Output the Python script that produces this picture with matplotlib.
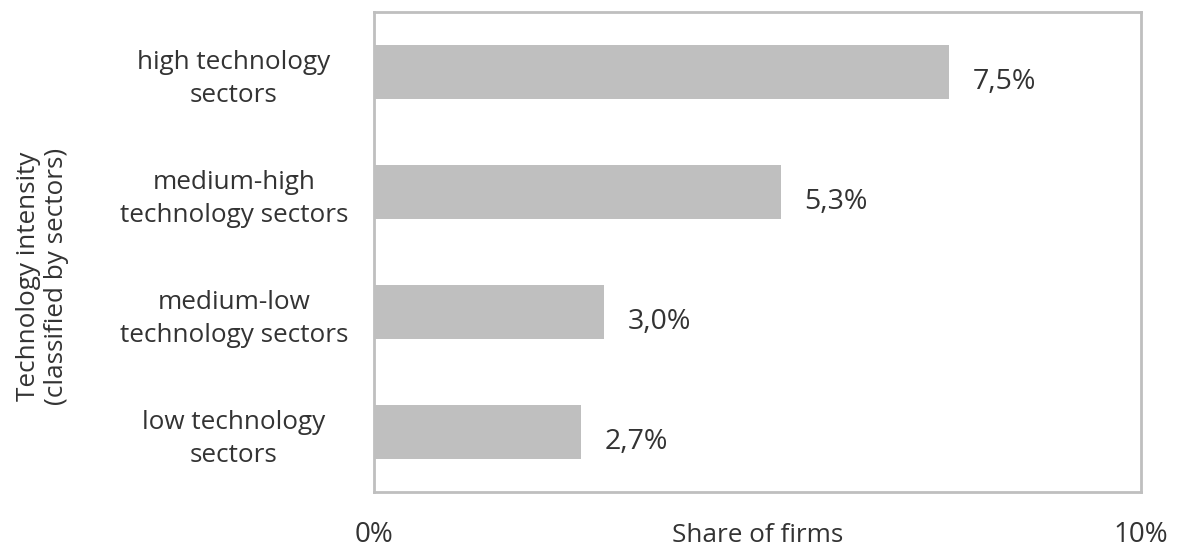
import matplotlib.pyplot as plt

# Share of firms by technology intensity of the sector
sectors = ['high technology\nsectors', 'medium-high\ntechnology sectors',
           'medium-low\ntechnology sectors', 'low technology\nsectors']
shares = [7.5, 5.3, 3.0, 2.7]
value_labels = ['7,5%', '5,3%', '3,0%', '2,7%']
x_ticks = [0, 10]
x_tick_labels = ['0%', '10%']

plt.rcParams['font.family'] = ['Open Sans', 'DejaVu Sans']
text_color = '#333333'
grey = '#bfbfbf'

fig = plt.figure(figsize=(11.81, 5.47), dpi=100)
ax = fig.add_axes([0.3167, 0.1005, 0.6494, 0.8775])

pos = list(range(len(sectors)))
ax.barh(pos, shares, height=0.45, color=grey, edgecolor='none')

# Value labels to the right of each bar
for y, v, lab in zip(pos, shares, value_labels):
    ax.text(v + 0.31, y + 0.08, lab, va='center', ha='left',
            fontsize=20.5, color=text_color)

ax.set_xlim(0, 10)
ax.set_ylim(3.5, -0.5)
ax.set_yticks(pos)
ax.set_yticklabels(sectors, fontsize=18.8, color=text_color, ha='center',
                   linespacing=1.4)
ax.tick_params(axis='y', length=0, pad=101)
ax.set_xticks(x_ticks)
ax.set_xticklabels(x_tick_labels, fontsize=20, color=text_color)
ax.tick_params(axis='x', length=0, pad=21)

ax.set_xlabel('Share of firms', fontsize=18.8, color=text_color)
ax.xaxis.set_label_coords(0.5, -0.09)
ax.xaxis.label.set_va('center')

fig.text(0.036, 0.495, 'Technology intensity\n(classified by sectors)',
         rotation=90, ha='center', va='center', fontsize=18.8,
         color=text_color, linespacing=1.2)

for s in ax.spines.values():
    s.set_color(grey)
    s.set_linewidth(2)

fig.savefig('out.png', dpi=100, facecolor='white')
